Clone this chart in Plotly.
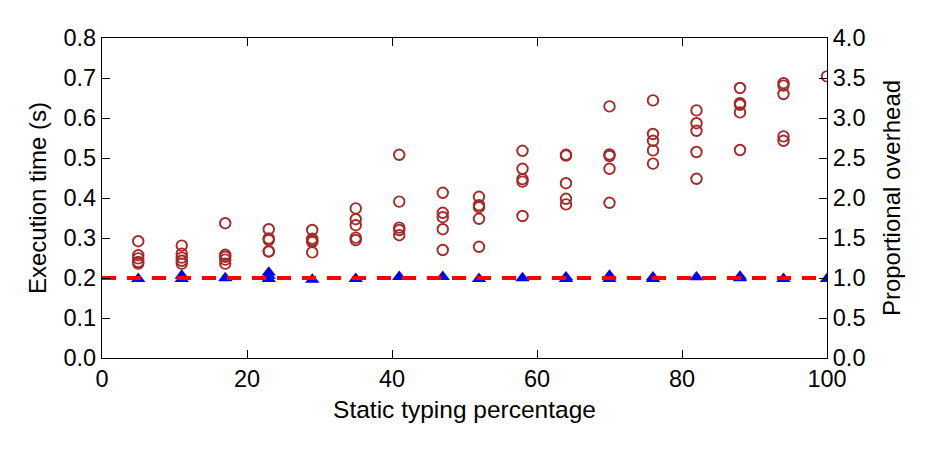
import plotly.graph_objects as go

# Static typing percentage (x positions of each configuration group)
static_pct = [5, 11, 17, 23, 29, 35, 41, 47, 52, 58, 64, 70, 76, 82, 88, 94, 100]

# Execution time (s) samples per group (left axis)
exec_times = [
    [0.292, 0.257, 0.249, 0.240, 0.236],
    [0.281, 0.261, 0.251, 0.243, 0.236],
    [0.337, 0.258, 0.253, 0.246, 0.236],
    [0.322, 0.299, 0.295, 0.267, 0.266],
    [0.320, 0.298, 0.293, 0.290, 0.264],
    [0.374, 0.347, 0.332, 0.301, 0.295],
    [0.508, 0.391, 0.326, 0.320, 0.307],
    [0.413, 0.363, 0.352, 0.322, 0.270],
    [0.403, 0.382, 0.377, 0.348, 0.278],
    [0.518, 0.473, 0.447, 0.441, 0.355],
    [0.508, 0.506, 0.437, 0.398, 0.384],
    [0.629, 0.509, 0.505, 0.473, 0.388],
    [0.644, 0.560, 0.543, 0.519, 0.486],
    [0.619, 0.587, 0.568, 0.515, 0.448],
    [0.675, 0.637, 0.633, 0.614, 0.520],
    [0.687, 0.681, 0.660, 0.554, 0.543],
    [0.704],
]

# Proportional overhead samples per group (right axis)
overheads = [
    [0.99],
    [1.03, 0.99],
    [1.00],
    [1.07, 1.03, 0.99],
    [0.98],
    [0.99],
    [1.015],
    [1.015],
    [0.99],
    [1.00],
    [1.01, 0.99],
    [1.03, 0.99],
    [1.01, 0.99],
    [1.01],
    [1.02, 1.00],
    [0.99],
    [0.99],
]

baseline_x = [0, 100]
baseline_y = [1.0, 1.0]

left_ticks = [0.0, 0.1, 0.2, 0.3, 0.4, 0.5, 0.6, 0.7, 0.8]
right_ticks = [0.0, 0.5, 1.0, 1.5, 2.0, 2.5, 3.0, 3.5, 4.0]
x_ticks = [0, 20, 40, 60, 80, 100]

cx, cy = [], []
for x, ys in zip(static_pct, exec_times):
    for y in ys:
        cx.append(x)
        cy.append(y)

tx, ty = [], []
for x, ys in zip(static_pct, overheads):
    for y in ys:
        tx.append(x)
        ty.append(y)

FONT = "Liberation Sans, Arial, Helvetica, sans-serif"

fig = go.Figure()
fig.add_trace(go.Scatter(
    x=cx, y=cy, mode="markers", yaxis="y",
    marker=dict(symbol="circle-open", size=10.5, color="#a52a2a",
                line=dict(width=1.9, color="#a52a2a")),
    showlegend=False, cliponaxis=True,
))
fig.add_trace(go.Scatter(
    x=tx, y=ty, mode="markers", yaxis="y2",
    marker=dict(symbol="triangle-up", size=12.5, color="#0000ff",
                line=dict(width=0)),
    showlegend=False, cliponaxis=True,
))
fig.add_trace(go.Scatter(
    x=baseline_x, y=baseline_y, mode="lines", yaxis="y2",
    line=dict(color="#ff0000", width=4, dash="14px,11px"),
    showlegend=False,
))

axis_common = dict(
    showgrid=False, zeroline=False, showline=True, linecolor="black",
    linewidth=1.2, ticks="inside", ticklen=8, tickwidth=1, tickcolor="black",
    tickfont=dict(family=FONT, size=23.5, color="black"),
)

fig.update_layout(
    width=930, height=450,
    margin=dict(l=102, r=103, t=38, b=92),
    paper_bgcolor="white", plot_bgcolor="white",
    font=dict(family=FONT, color="black"),
    xaxis=dict(
        range=[0, 100], tickvals=x_ticks, mirror="ticks",
        title=dict(text="Static typing percentage",
                   font=dict(family=FONT, size=24.5, color="black"), standoff=9),
        **axis_common,
    ),
    yaxis=dict(
        range=[0, 0.8], tickvals=left_ticks, tickformat=".1f", mirror=True,
        title=dict(text="Execution time (s)",
                   font=dict(family=FONT, size=24, color="black"), standoff=10),
        **axis_common,
    ),
    yaxis2=dict(
        range=[0, 4], tickvals=right_ticks, tickformat=".1f",
        overlaying="y", side="right",
        title=dict(text="Proportional overhead",
                   font=dict(family=FONT, size=24, color="black"), standoff=18),
        **axis_common,
    ),
)

fig.write_html("out.html")
